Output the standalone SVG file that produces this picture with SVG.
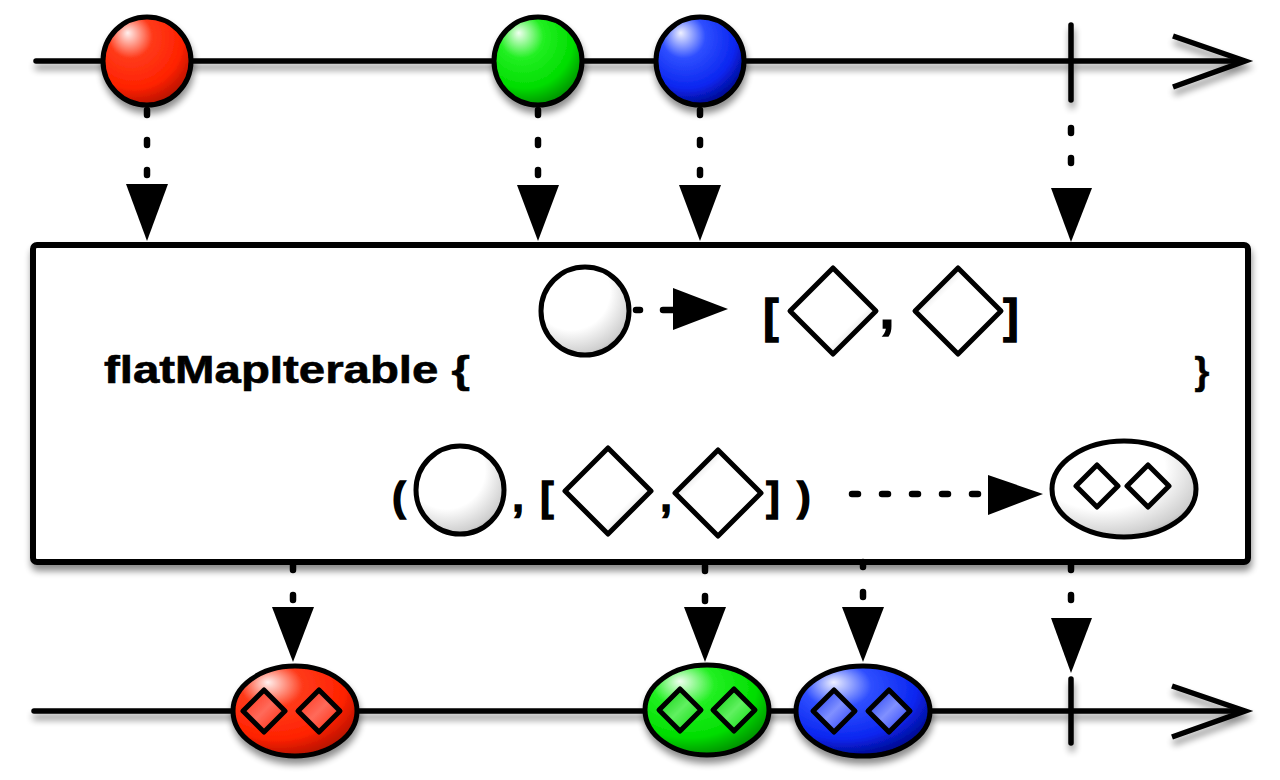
<svg xmlns="http://www.w3.org/2000/svg" width="1280" height="780" viewBox="0 0 1280 780">
<style>
.ln{fill:none;stroke:#000;stroke-width:5.5;stroke-linecap:round}
.ah{fill:none;stroke:#000;stroke-width:5.5;stroke-linejoin:miter;stroke-linecap:butt}
.sh{stroke:#000;stroke-width:5}
.dot{fill:none;stroke:#000;stroke-width:6.5;stroke-linecap:round;stroke-dasharray:5 25}
.tri{fill:#000}
.t{font-family:"Liberation Sans",Arial,sans-serif;font-weight:bold;fill:#000}
.big{font-size:46px;text-anchor:middle;stroke:#000;stroke-width:1.5}
.sm{font-size:40px;text-anchor:middle;stroke:#000;stroke-width:1.5}
.lbl{font-size:38px;stroke:#000;stroke-width:0.6}
</style>
<defs>
<filter id="shadow" filterUnits="userSpaceOnUse" x="0" y="0" width="1280" height="780">
<feGaussianBlur in="SourceAlpha" stdDeviation="3.5"/>
<feOffset dx="1" dy="6" result="b"/>
<feComponentTransfer><feFuncA type="linear" slope="0.45"/></feComponentTransfer>
<feMerge><feMergeNode/><feMergeNode in="SourceGraphic"/></feMerge>
</filter>
<radialGradient id="gRed" cx="0.38" cy="0.3" r="0.78" fx="0.28" fy="0.18">
<stop offset="0" stop-color="#fff0ee"/><stop offset="0.32" stop-color="#ff3a1a"/><stop offset="0.7" stop-color="#ff2200"/><stop offset="1" stop-color="#a00c00"/>
</radialGradient>
<radialGradient id="gGreen" cx="0.38" cy="0.3" r="0.78" fx="0.28" fy="0.18">
<stop offset="0" stop-color="#f0fff0"/><stop offset="0.32" stop-color="#22f022"/><stop offset="0.7" stop-color="#00dd00"/><stop offset="1" stop-color="#007a00"/>
</radialGradient>
<radialGradient id="gBlue" cx="0.38" cy="0.3" r="0.78" fx="0.28" fy="0.18">
<stop offset="0" stop-color="#eef0ff"/><stop offset="0.32" stop-color="#2f4fff"/><stop offset="0.7" stop-color="#0a26f0"/><stop offset="1" stop-color="#000070"/>
</radialGradient>
<radialGradient id="gWhite" cx="0.38" cy="0.32" r="0.8" fx="0.3" fy="0.22">
<stop offset="0" stop-color="#ffffff"/><stop offset="0.55" stop-color="#ffffff"/><stop offset="0.85" stop-color="#cfcfcf"/><stop offset="1" stop-color="#8c8c8c"/>
</radialGradient>
<linearGradient id="gDia1" x1="0.2" y1="0.2" x2="1" y2="1">
<stop offset="0" stop-color="#ffffff"/><stop offset="0.6" stop-color="#ffffff"/><stop offset="1" stop-color="#a8a8a8"/>
</linearGradient>
<linearGradient id="gDia2" x1="0.8" y1="0.8" x2="0" y2="0">
<stop offset="0" stop-color="#ffffff"/><stop offset="0.6" stop-color="#ffffff"/><stop offset="1" stop-color="#a8a8a8"/>
</linearGradient>
<linearGradient id="dRed" x1="0" y1="0" x2="1" y2="1">
<stop offset="0" stop-color="#ff2a10"/><stop offset="0.5" stop-color="#ff6a5a"/><stop offset="1" stop-color="#ff2000"/>
</linearGradient>
<linearGradient id="dGreen" x1="0" y1="0" x2="1" y2="1">
<stop offset="0" stop-color="#00cc00"/><stop offset="0.5" stop-color="#60f060"/><stop offset="1" stop-color="#00dd00"/>
</linearGradient>
<linearGradient id="dBlue" x1="0" y1="0" x2="1" y2="1">
<stop offset="0" stop-color="#1030f0"/><stop offset="0.5" stop-color="#8090ff"/><stop offset="1" stop-color="#1a30f8"/>
</linearGradient>
</defs>
<rect width="1280" height="780" fill="#fff"/>

<g id="timeline-top" filter="url(#shadow)">
<line class="ln" x1="36" y1="61" x2="1240" y2="61"/>
<polyline class="ah" points="1173,36 1245,61 1173,87"/>
<line class="ln" x1="1071" y1="25" x2="1071" y2="100"/>
</g>

<g id="timeline-bottom" filter="url(#shadow)">
<line class="ln" x1="34" y1="711" x2="1240" y2="711"/>
<polyline class="ah" points="1172,686 1245,711 1172,737"/>
<line class="ln" x1="1071" y1="679" x2="1071" y2="743"/>
</g>

<g id="operator-box">
<rect x="33" y="245" width="1215" height="317" rx="4" fill="#fff" stroke="#000" stroke-width="6" filter="url(#shadow)"/>
<text class="t lbl" x="104" y="383" textLength="366" lengthAdjust="spacingAndGlyphs">flatMapIterable {</text>
<text class="t lbl" x="1202" y="384" text-anchor="middle">}</text>
</g>

<g id="input-red"><circle class="sh" cx="147" cy="61" r="44" fill="url(#gRed)" filter="url(#shadow)"/></g>
<g id="input-green"><circle class="sh" cx="538" cy="61" r="44" fill="url(#gGreen)" filter="url(#shadow)"/></g>
<g id="input-blue"><circle class="sh" cx="700" cy="61" r="44" fill="url(#gBlue)" filter="url(#shadow)"/></g>

<g id="rule-mapping">
<circle class="sh" cx="585" cy="311" r="44" fill="url(#gWhite)"/>
<text class="t big" x="771" y="332">[</text>
<path class="sh" d="M833 268 L876 311 L833 354 L790 311 Z" fill="url(#gDia1)" stroke-linejoin="round"/>
<text class="t big" x="887" y="328" style="font-size:52px">,</text>
<path class="sh" d="M958 268 L1001 311 L958 354 L915 311 Z" fill="url(#gDia2)" stroke-linejoin="round"/>
<text class="t big" x="1011" y="332">]</text>
</g>

<g id="rule-pair">
<text class="t sm" x="399" y="511">(</text>
<circle class="sh" cx="460" cy="490" r="44" fill="url(#gWhite)"/>
<text class="t sm" x="518" y="511">,</text>
<text class="t sm" x="547" y="511">[</text>
<path class="sh" d="M608 448 L651 491 L608 534 L565 491 Z" fill="url(#gDia1)" stroke-linejoin="round"/>
<text class="t sm" x="666" y="511">,</text>
<path class="sh" d="M718 450 L761 493 L718 536 L675 493 Z" fill="url(#gDia2)" stroke-linejoin="round"/>
<text class="t sm" x="773" y="511">]</text>
<text class="t sm" x="804" y="511">)</text>
</g>

<g id="rule-result">
<ellipse class="sh" cx="1124" cy="489" rx="72" ry="48" fill="url(#gWhite)"/>
<path class="sh" d="M1097 465 L1118 486 L1097 507 L1076 486 Z" fill="url(#gDia1)" stroke-linejoin="round"/>
<path class="sh" d="M1148 465 L1169 486 L1148 507 L1127 486 Z" fill="url(#gDia1)" stroke-linejoin="round"/>
</g>

<g id="output-red" filter="url(#shadow)">
<ellipse class="sh" cx="295" cy="711" rx="62" ry="45" fill="url(#gRed)"/>
<path class="sh" d="M264 690 L285 711 L264 732 L243 711 Z" fill="url(#dRed)" stroke-linejoin="round"/>
<path class="sh" d="M319 690 L340 711 L319 732 L298 711 Z" fill="url(#dRed)" stroke-linejoin="round"/>
</g>
<g id="output-green" filter="url(#shadow)">
<ellipse class="sh" cx="707" cy="710" rx="62" ry="45" fill="url(#gGreen)"/>
<path class="sh" d="M680 689 L701 710 L680 731 L659 710 Z" fill="url(#dGreen)" stroke-linejoin="round"/>
<path class="sh" d="M734 689 L755 710 L734 731 L713 710 Z" fill="url(#dGreen)" stroke-linejoin="round"/>
</g>
<g id="output-blue" filter="url(#shadow)">
<ellipse class="sh" cx="863" cy="711" rx="67" ry="45" fill="url(#gBlue)"/>
<path class="sh" d="M834 690 L855 711 L834 732 L813 711 Z" fill="url(#dBlue)" stroke-linejoin="round"/>
<path class="sh" d="M889 690 L910 711 L889 732 L868 711 Z" fill="url(#dBlue)" stroke-linejoin="round"/>
</g>

<g id="connectors">
<line class="dot" x1="147" y1="110" x2="147" y2="184"/>
<polygon class="tri" points="126,184 168,184 147,241"/>
<line class="dot" x1="538" y1="110" x2="538" y2="185"/>
<polygon class="tri" points="517,185 559,185 538,241"/>
<line class="dot" x1="700" y1="110" x2="700" y2="185"/>
<polygon class="tri" points="679,185 721,185 700,241"/>
<line class="dot" x1="1071" y1="128" x2="1071" y2="188"/>
<polygon class="tri" points="1051,188 1092,188 1071,242"/>

<path d="M636 310 H640 M663 310 H674" fill="none" stroke="#000" stroke-width="6.5" stroke-linecap="round"/>
<polygon class="tri" points="673,288 673,330 728,309"/>
<line class="dot" x1="852" y1="494" x2="985" y2="494" style="stroke-dasharray:6 24"/>
<polygon class="tri" points="988,475 988,515 1043,494"/>

<line class="dot" x1="293" y1="565" x2="293" y2="607"/>
<polygon class="tri" points="272,607 314,607 293,662"/>
<line class="dot" x1="705" y1="566" x2="705" y2="607"/>
<polygon class="tri" points="684,607 726,607 705,662"/>
<line class="dot" x1="863" y1="562" x2="863" y2="607"/>
<polygon class="tri" points="842,607 884,607 863,662"/>
<line class="dot" x1="1071" y1="565" x2="1071" y2="618"/>
<polygon class="tri" points="1051,618 1092,618 1071,673"/>
</g>
</svg>
